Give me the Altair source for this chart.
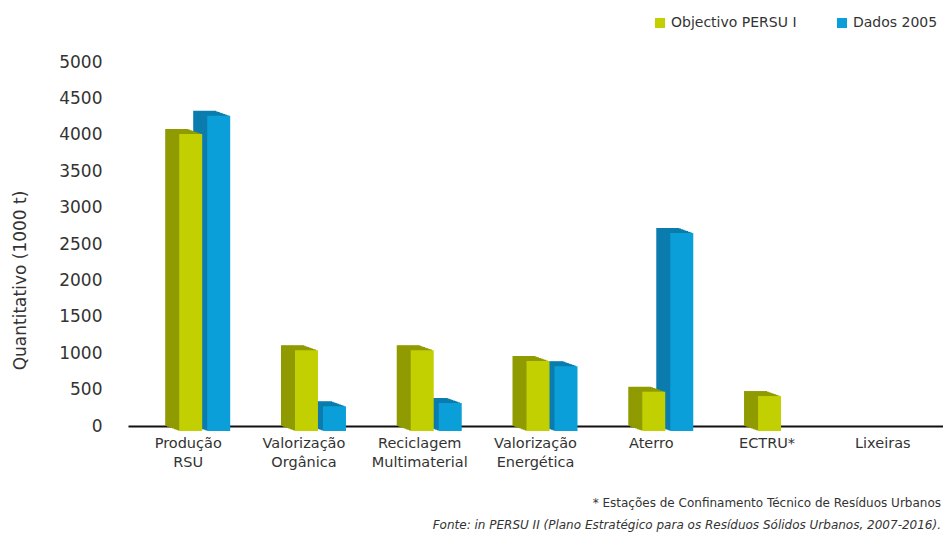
import altair as alt
import pandas as pd

categories = ["Produção RSU", "Valorização Orgânica", "Reciclagem Multimaterial",
              "Valorização Energética", "Aterro", "ECTRU*", "Lixeiras"]
objectivo_persu = [4080, 1110, 1110, 960, 540, 480, 0]
dados_2005 = [4330, 340, 385, 890, 2720, 0, 0]
series = ["Objectivo PERSU I", "Dados 2005"]
y_ticks = [0, 500, 1000, 1500, 2000, 2500, 3000, 3500, 4000, 4500, 5000]

rows = []
for c, a, b in zip(categories, objectivo_persu, dados_2005):
    rows.append({"cat": c, "serie": series[0], "v": a})
    rows.append({"cat": c, "serie": series[1], "v": b})
df = pd.DataFrame(rows)

FONT = "DejaVu Sans"
TXT = "#333333"
light = {series[0]: "#c2cf00", series[1]: "#0a9fd8"}
dark = {series[0]: "#8f9b00", series[1]: "#0b7cad"}
base_off = {series[0]: -11.5, series[1]: 16.5}
BW = 23
DX, DY = 14, 5
STEPS = 8

x_enc = alt.X("cat:N", sort=categories,
              scale=alt.Scale(domain=categories, paddingInner=0, paddingOuter=0.02),
              axis=alt.Axis(title=None, labelExpr="split(datum.label, ' ')",
                            labelAngle=0, labelFont=FONT, labelFontSize=14.5,
                            labelColor=TXT, labelLineHeight=19,
                            labelPadding=10, ticks=False, domainColor="#111111",
                            domainWidth=2, zindex=0))
y_enc = alt.Y("v:Q", scale=alt.Scale(domain=[0, 5000], nice=False),
              axis=alt.Axis(title="Quantitativo (1000 t)", values=y_ticks, format="d",
                            grid=False, domain=False, ticks=False,
                            labelFont=FONT, labelFontSize=17, labelColor=TXT,
                            labelPadding=26, titleFont=FONT, titleFontSize=17,
                            titleFontWeight="normal", titleColor=TXT,
                            titleX=-108, titleY=218, titleBaseline="middle",
                            titleAlign="center", titleAngle=270))

base = alt.Chart(df).transform_filter(alt.datum.v > 0)

layers = []
for s in [series[1], series[0]]:
    sub = base.transform_filter(alt.datum.serie == s)
    for i in range(STEPS):
        t = i / STEPS
        layers.append(sub.mark_bar(width=BW, xOffset=base_off[s] + DX * t,
                                   yOffset=DY * t, color=dark[s])
                      .encode(x=x_enc, y=y_enc))
    layers.append(sub.mark_bar(width=BW, xOffset=base_off[s] + DX, yOffset=DY)
                  .encode(x=x_enc, y=y_enc,
                          color=alt.Color("serie:N",
                                          scale=alt.Scale(domain=series,
                                                          range=[light[series[0]], light[series[1]]]),
                                          legend=alt.Legend(title=None, orient="none",
                                                            direction="horizontal",
                                                            legendX=525, legendY=-46,
                                                            symbolType="square", symbolSize=100,
                                                            labelFont=FONT, labelFontSize=14,
                                                            labelColor=TXT,
                                                            columnPadding=38,
                                                            symbolStrokeWidth=0))))

notes = pd.DataFrame({"t": ["* Estações de Confinamento Técnico de Resíduos Urbanos",
                            "Fonte: in PERSU II (Plano Estratégico para os Resíduos Sólidos Urbanos, 2007-2016)."],
                      "i": [0, 1]})
note1 = alt.Chart(notes).transform_filter(alt.datum.i == 0).mark_text(
    align="right", baseline="middle", font=FONT, fontSize=12, color=TXT
).encode(x=alt.value(813), y=alt.value(441), text="t:N")
note2 = alt.Chart(notes).transform_filter(alt.datum.i == 1).mark_text(
    align="right", baseline="middle", font=FONT, fontSize=12, fontStyle="italic", color=TXT
).encode(x=alt.value(813), y=alt.value(463), text="t:N")

chart = alt.layer(*layers, note1, note2).properties(
    width=815, height=364,
    autosize=alt.AutoSizeParams(type="none"),
    padding={"left": 128, "top": 62, "right": 0, "bottom": 109},
).configure(background="white", view=alt.ViewConfig(stroke=None))

chart.save("out.html", embed_options={"renderer": "svg", "actions": False})
